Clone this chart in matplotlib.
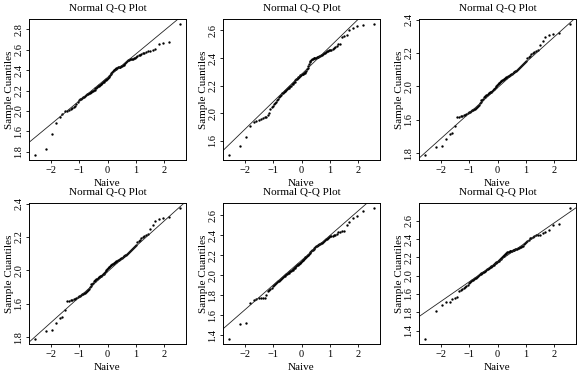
import numpy as np
import matplotlib
import matplotlib.pyplot as plt
from statistics import NormalDist

matplotlib.use('Agg')

# Sorted sample values (n = 100)
naive_a = [1.57, 1.63, 1.77, 1.885, 1.945, 1.965, 1.995, 2.00, 2.01, 2.02,
           2.03, 2.04, 2.05, 2.07, 2.09, 2.105, 2.115, 2.12, 2.125, 2.135,
           2.14, 2.15, 2.155, 2.165, 2.17, 2.175, 2.18, 2.187, 2.19, 2.195,
           2.20, 2.205, 2.21, 2.22, 2.225, 2.235, 2.24, 2.245, 2.25, 2.255,
           2.26, 2.265, 2.27, 2.28, 2.285, 2.29, 2.30, 2.305, 2.31, 2.315,
           2.32, 2.33, 2.34, 2.355, 2.365, 2.375, 2.385, 2.395, 2.40, 2.405,
           2.41, 2.415, 2.42, 2.423, 2.426, 2.43, 2.432, 2.435, 2.44, 2.445,
           2.45, 2.455, 2.46, 2.47, 2.48, 2.49, 2.495, 2.50, 2.505, 2.507,
           2.51, 2.512, 2.515, 2.52, 2.525, 2.535, 2.545, 2.55, 2.555, 2.565,
           2.57, 2.58, 2.585, 2.59, 2.60, 2.61, 2.655, 2.665, 2.68, 2.85]

naive_b = [1.70, 1.765, 1.83, 1.905, 1.935, 1.945, 1.955, 1.96, 1.965, 1.97,
           1.975, 1.985, 2.00, 2.03, 2.045, 2.055, 2.065, 2.075, 2.08, 2.095,
           2.105, 2.115, 2.125, 2.135, 2.145, 2.15, 2.155, 2.16, 2.165, 2.17,
           2.175, 2.18, 2.185, 2.19, 2.195, 2.20, 2.21, 2.215, 2.22, 2.225,
           2.23, 2.24, 2.245, 2.25, 2.255, 2.26, 2.265, 2.27, 2.275, 2.28,
           2.282, 2.285, 2.288, 2.29, 2.295, 2.30, 2.31, 2.32, 2.33, 2.345,
           2.36, 2.37, 2.38, 2.385, 2.39, 2.393, 2.397, 2.40, 2.402, 2.404,
           2.406, 2.408, 2.41, 2.412, 2.415, 2.42, 2.425, 2.43, 2.435, 2.44,
           2.445, 2.448, 2.452, 2.456, 2.46, 2.462, 2.465, 2.47, 2.478, 2.485,
           2.50, 2.505, 2.55, 2.56, 2.565, 2.60, 2.615, 2.635, 2.64, 2.645]

naive_c = [1.592, 1.636, 1.642, 1.688, 1.718, 1.722, 1.766, 1.816, 1.82, 1.822,
           1.824, 1.827, 1.83, 1.835, 1.84, 1.845, 1.85, 1.856, 1.86, 1.862,
           1.865, 1.868, 1.872, 1.878, 1.885, 1.892, 1.90, 1.91, 1.918, 1.922,
           1.927, 1.935, 1.94, 1.944, 1.948, 1.952, 1.956, 1.96, 1.963, 1.966,
           1.968, 1.97, 1.973, 1.977, 1.982, 1.986, 1.99, 1.995, 2.00, 2.006,
           2.012, 2.018, 2.022, 2.026, 2.03, 2.033, 2.037, 2.04, 2.044, 2.047,
           2.05, 2.053, 2.056, 2.058, 2.06, 2.063, 2.066, 2.069, 2.072, 2.075,
           2.08, 2.084, 2.087, 2.09, 2.093, 2.098, 2.104, 2.11, 2.117, 2.124,
           2.13, 2.136, 2.142, 2.148, 2.155, 2.168, 2.176, 2.183, 2.192, 2.198,
           2.205, 2.21, 2.216, 2.248, 2.274, 2.296, 2.308, 2.316, 2.322, 2.372]

naive_d = [1.366, 1.512, 1.519, 1.725, 1.749, 1.759, 1.77, 1.772, 1.773, 1.775,
           1.80, 1.84, 1.855, 1.865, 1.878, 1.89, 1.90, 1.91, 1.92, 1.93,
           1.94, 1.948, 1.955, 1.963, 1.978, 1.986, 1.99, 1.997, 2.003, 2.01,
           2.016, 2.022, 2.028, 2.034, 2.04, 2.046, 2.052, 2.058, 2.064, 2.071,
           2.078, 2.085, 2.092, 2.099, 2.105, 2.11, 2.115, 2.12, 2.127, 2.135,
           2.142, 2.15, 2.158, 2.165, 2.173, 2.18, 2.187, 2.194, 2.20, 2.207,
           2.215, 2.224, 2.233, 2.242, 2.25, 2.258, 2.266, 2.274, 2.282, 2.29,
           2.295, 2.30, 2.305, 2.31, 2.315, 2.32, 2.328, 2.336, 2.344, 2.352,
           2.36, 2.368, 2.376, 2.384, 2.39, 2.393, 2.396, 2.40, 2.405, 2.41,
           2.436, 2.438, 2.44, 2.444, 2.505, 2.536, 2.569, 2.59, 2.647, 2.671]

naive_e = [1.31, 1.613, 1.675, 1.712, 1.712, 1.75, 1.753, 1.768, 1.83, 1.84,
           1.85, 1.862, 1.875, 1.885, 1.895, 1.92, 1.93, 1.94, 1.948, 1.955,
           1.962, 1.97, 1.978, 1.987, 1.996, 2.006, 2.014, 2.02, 2.026, 2.032,
           2.038, 2.044, 2.05, 2.056, 2.062, 2.068, 2.074, 2.08, 2.086, 2.092,
           2.098, 2.104, 2.11, 2.116, 2.122, 2.128, 2.134, 2.14, 2.146, 2.152,
           2.158, 2.164, 2.17, 2.178, 2.186, 2.194, 2.202, 2.21, 2.218, 2.226,
           2.234, 2.242, 2.25, 2.255, 2.26, 2.262, 2.265, 2.268, 2.271, 2.274,
           2.278, 2.281, 2.284, 2.288, 2.291, 2.295, 2.30, 2.305, 2.31, 2.316,
           2.322, 2.33, 2.345, 2.355, 2.365, 2.375, 2.395, 2.41, 2.415, 2.42,
           2.432, 2.44, 2.445, 2.45, 2.465, 2.475, 2.498, 2.553, 2.565, 2.738]

# third and fourth panels show the same sample
samples = [naive_a, naive_b, naive_c, naive_c, naive_d, naive_e]

# y tick positions and the labels as printed on the figure
ytick_vals = [
    [1.6, 1.8, 2.0, 2.2, 2.4, 2.6, 2.8],
    [1.8, 2.0, 2.2, 2.4, 2.6],
    [1.6, 1.8, 2.0, 2.2, 2.4],
    [1.6, 1.8, 2.0, 2.2, 2.4],
    [1.4, 1.6, 1.8, 2.0, 2.2, 2.4, 2.6],
    [1.4, 1.6, 1.8, 2.0, 2.2, 2.4, 2.6],
]
ytick_text = [
    ["1.8", "1.6", "2.0", "2.2", "2.4", "2.6", "2.8"],
    ["1.6", "2.0", "2.2", "2.4", "2.6"],
    ["1.8", "1.6", "2.0", "2.2", "2.4"],
    ["1.8", "1.6", "2.0", "2.2", "2.4"],
    ["1.4", "1.6", "1.8", "2.0", "2.2", "2.4", "2.6"],
    ["1.4", "1.8", "1.6", "2.0", "2.2", "2.4", "2.6"],
]
xtick_vals = [-2, -1, 0, 1, 2]


def ppoints(n):
    a = 3 / 8 if n <= 10 else 0.5
    return (np.arange(1, n + 1) - a) / (n + 1 - 2 * a)


def main():
    plt.rcParams['font.family'] = ['Liberation Serif', 'DejaVu Serif']
    W, H = 584, 374
    fig = plt.figure(figsize=(W / 100, H / 100), dpi=100)

    col_left = [29, 223, 419]
    row_top = [19, 203]
    aw, ah = 157, 141

    nd = NormalDist()
    for k, y in enumerate(samples):
        r, c = divmod(k, 3)
        ax = fig.add_axes([col_left[c] / W, 1 - (row_top[r] + ah) / H, aw / W, ah / H])

        y = np.sort(np.asarray(y))
        x = np.array([nd.inv_cdf(p) for p in ppoints(len(y))])
        ax.plot(x, y, 'o', ms=1.7, color='black', mec='none')
        ax.margins(0.04)

        # qqline through the quartiles
        q1, q3 = np.quantile(y, [0.25, 0.75])
        t1, t3 = nd.inv_cdf(0.25), nd.inv_cdf(0.75)
        slope = (q3 - q1) / (t3 - t1)
        ax.axline((0, q1 - slope * t1), slope=slope, color='#222222', lw=0.6)

        ax.set_xticks(xtick_vals)
        ax.set_xticklabels(['\u22122', '\u22121', '0', '1', '2'])
        ax.set_yticks(ytick_vals[k])
        ax.set_yticklabels(ytick_text[k], rotation=90, va='center')
        ax.tick_params(direction='out', length=2.5, width=0.6, labelsize=7.5, pad=1.5)
        for s in ax.spines.values():
            s.set_linewidth(0.7)

        ax.set_title('Normal Q-Q Plot', fontsize=8, pad=6)
        ax.set_xlabel('Naive', fontsize=8, labelpad=3)
        ax.set_ylabel('Sample Cuantiles', fontsize=8, labelpad=0.5)

    fig.savefig('out.png', dpi=100)


if __name__ == "__main__":
    main()
